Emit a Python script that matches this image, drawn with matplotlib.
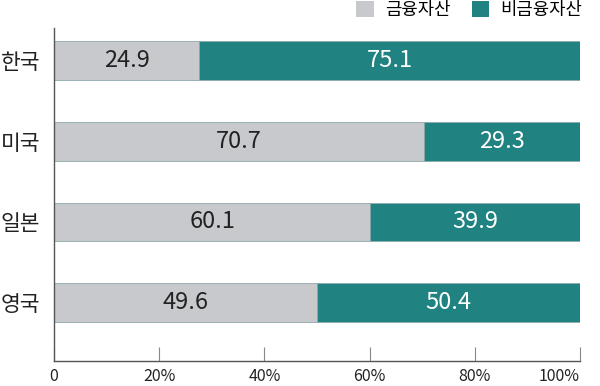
import matplotlib
matplotlib.use("Agg")
import matplotlib.pyplot as plt
import matplotlib.transforms as mtransforms
from matplotlib.patches import Patch

plt.rcParams['font.family'] = ['Noto Sans CJK KR', 'DejaVu Sans']

countries = ["한국", "미국", "일본", "영국"]
# bar lengths as drawn in the picture (percent)
financial = [27.6, 70.3, 60.1, 50.0]
# data labels printed on the bars
financial_labels = ["24.9", "70.7", "60.1", "49.6"]
nonfinancial_labels = ["75.1", "29.3", "39.9", "50.4"]
series_names = ["금융자산", "비금융자산"]
xticks = [0, 20, 40, 60, 80, 100]
xticklabels = ["0", "20%", "40%", "60%", "80%", "100%"]

gray = "#c8c9cc"
teal = "#218282"
edge = "#8fa9ab"

fig = plt.figure(figsize=(6.0, 3.86), dpi=100)
ax = fig.add_axes([54/600, 1-361/386, 526/600, (361-28)/386])

ys = list(range(len(countries)))
nonfin = [100 - v for v in financial]
ax.barh(ys, financial, height=0.48, color=gray, edgecolor=edge, linewidth=0.6)
ax.barh(ys, nonfin, left=financial, height=0.48, color=teal, edgecolor=edge, linewidth=0.6)

for y, f, nf, fl, nl in zip(ys, financial, nonfin, financial_labels, nonfinancial_labels):
    ax.text(f/2, y, fl, ha='center', va='center', fontsize=17, color='#222222')
    ax.text(f + nf/2, y, nl, ha='center', va='center', fontsize=17, color='white')

ax.set_xlim(0, 100)
ax.set_ylim(3.72, -0.40)
ax.set_yticks(ys)
ax.set_yticklabels(countries, fontsize=15.5, color='#222222')
ax.set_xticks(xticks)
ax.set_xticklabels(xticklabels, fontsize=11.5, color='#222222')
last = ax.get_xticklabels()[-1]
last.set_horizontalalignment('right')
last.set_transform(last.get_transform() + mtransforms.ScaledTranslation(19/100, 0, fig.dpi_scale_trans))
ax.tick_params(axis='y', length=0, pad=10)
ax.tick_params(axis='x', direction='in', length=10, color='#888888', width=0.8, pad=5)
for s in ['top', 'right']:
    ax.spines[s].set_visible(False)
for s in ['left', 'bottom']:
    ax.spines[s].set_color('#555555')
    ax.spines[s].set_linewidth(1.0)

handles = [Patch(facecolor=gray, edgecolor='none'), Patch(facecolor=teal, edgecolor='none')]
fig.legend(handles, series_names, loc='upper right', bbox_to_anchor=(582/600, 0.997),
           ncol=2, frameon=False, fontsize=12.8, handlelength=1.0, handleheight=1.0,
           columnspacing=1.2, handletextpad=0.6, borderpad=0, borderaxespad=0)

fig.savefig("out.png", dpi=100)
